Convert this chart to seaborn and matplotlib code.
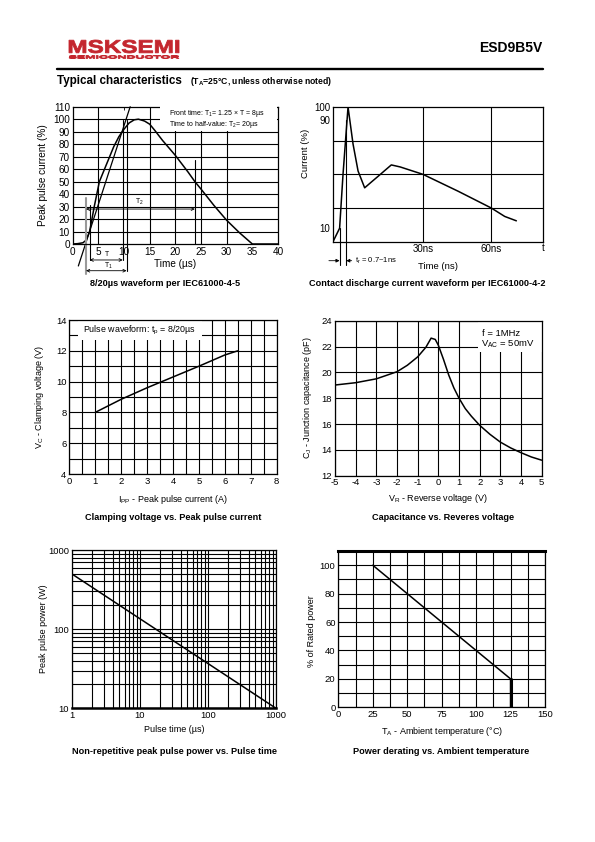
import matplotlib
matplotlib.use("Agg")
import matplotlib.pyplot as plt
import seaborn as sns
from matplotlib.patches import Rectangle, PathPatch
from matplotlib.textpath import TextPath
from matplotlib.font_manager import FontProperties
from matplotlib.transforms import Affine2D
from matplotlib.ticker import LogLocator, NullFormatter, MultipleLocator

# 8/20us surge waveform, % of peak vs time (us)
surge_t = [0, 1, 2, 2.6, 3.3, 4.2, 5.2, 6, 7, 8, 9, 10, 11, 12, 12.8, 14, 15, 16,
           17.5, 20, 22.5, 23.8, 25, 27.5, 30, 32.5, 35, 40]
surge_i = [0, 0.3, 1, 3, 10, 30, 50, 58, 68, 78, 86, 92, 97, 99.5, 100, 98.5, 96, 91,
           83, 71, 57.5, 50, 44, 31, 19, 9, 0, 0]
front_t = [1.1, 11.2]
front_i = [-17.6, 110]

# ESD contact discharge waveform, % vs time (ns)
esd_t = [-9.5, -6.6, -5.1, -2.9, -0.7, 1.5, 4.4, 7, 10.2, 13, 16.1, 20, 30, 45.4, 60, 65.9, 71]
esd_i = [0, 10, 50, 100, 72.5, 52.5, 40, 43.8, 48.4, 52.5, 57, 55.5, 50, 37.5, 25, 18.75, 15.5]

# clamping voltage vs peak pulse current
clamp_i = [1, 2, 3, 4, 5, 6, 6.5]
clamp_v = [8, 8.85, 9.6, 10.3, 11.0, 11.73, 12.0]

# junction capacitance vs reverse voltage
cap_v = [-5, -4, -3, -2, -1.5, -1, -0.6, -0.35, -0.15, 0, 0.25, 0.5, 0.75, 1, 1.3, 1.6,
         2, 2.5, 3, 3.5, 4, 4.5, 5]
cap_c = [19.02, 19.2, 19.5, 20.05, 20.55, 21.2, 21.95, 22.65, 22.55, 22.1, 21.0, 19.8,
         18.8, 18.0, 17.2, 16.6, 15.9, 15.2, 14.6, 14.15, 13.78, 13.45, 13.2]

# peak pulse power vs pulse time
pulse_t = [1, 1000]
pulse_p = [500, 10]

# power derating
derate_t = [25, 125, 125]
derate_p = [100, 20, 0]

sns.set_theme(style="white")
plt.rcParams["font.family"] = ["Liberation Sans", "DejaVu Sans"]
plt.rcParams["mathtext.fontset"] = "custom"
plt.rcParams["mathtext.rm"] = "Liberation Sans"
plt.rcParams["mathtext.it"] = "Liberation Sans:italic"
plt.rcParams["mathtext.bf"] = "Liberation Sans:bold"
plt.rcParams["axes.unicode_minus"] = False
for k in ["text.color", "axes.labelcolor", "xtick.color", "ytick.color"]:
    plt.rcParams[k] = "black"

W, H = 595, 842
fig = plt.figure(figsize=(W / 100, H / 100), dpi=100)
page = fig.add_axes([0, 0, 1, 1])
page.set_xlim(0, W)
page.set_ylim(H, 0)
page.axis("off")


def box(l, t, r, b):
    return [l / W, 1 - b / H, (r - l) / W, (b - t) / H]


def frame(ax, fs, top=True):
    ax.set_axisbelow(True)
    ax.set_facecolor("white")
    for s in ax.spines.values():
        s.set_visible(True)
        s.set_color("black")
        s.set_linewidth(0.9)
    ax.tick_params(which="both", direction="in", top=top, right=top, length=2.5,
                   width=0.6, colors="black", labelsize=fs, pad=2)
    ax.tick_params(which="minor", length=1.5)


def labels(ax, xl, yl, rect, xcy, ycx, fs, ycy=None):
    l, t, r, b = rect
    ax.set_xlabel(xl, fontsize=fs, color="black", va="center")
    ax.xaxis.set_label_coords(0.5, -(xcy - b) / (b - t))
    ax.set_ylabel(yl, fontsize=fs, color="black", va="center")
    ax.yaxis.set_label_coords((ycx - l) / (r - l), 0.5 if ycy is None else (b - ycy) / (b - t))


def logo_text(s, x0, x1, ytop, ybot, color):
    tp = TextPath((0, 0), s, size=1, prop=FontProperties(family="Liberation Sans", weight="bold"))
    bb = tp.get_extents()
    tr = (Affine2D().translate(-bb.x0, -bb.y0)
          .scale((x1 - x0) / bb.width, -(ybot - ytop) / bb.height).translate(x0, ybot))
    page.add_patch(PathPatch(tr.transform_path(tp), facecolor=color, edgecolor=color, lw=0.6))


line_kw = dict(color="black", lw=0.8)
arrow_kw = dict(arrowstyle="<->", color="black", lw=0.6, mutation_scale=5, shrinkA=0, shrinkB=0)
tick_fs = 6.8
lab_fs = 6.5

# header
logo_text("MSKSEMI", 69, 179, 40, 53, "#c4262e")
logo_text("SEMICONDUCTOR", 69, 179, 55.5, 58.5, "#c4262e")
page.text(542, 48, "ESD9B5V", ha="right", va="center", fontsize=10, fontweight="bold")
page.plot([57, 543], [69, 69], color="black", lw=1.7)
page.text(57, 81, "Typical characteristics", ha="left", va="center", fontsize=8.4, fontweight="bold")
page.text(190, 81.5, "($\\mathbf{T_A}$=25°C, unless otherwise noted)", ha="left", va="center",
          fontsize=6.2, fontweight="bold")

# panel 1: 8/20us waveform
r1 = (72.7, 106.7, 278, 244)
ax1 = fig.add_axes(box(*r1))
sns.lineplot(x=surge_t, y=surge_i, ax=ax1, color="black", linewidth=1.1, sort=False, estimator=None)
sns.lineplot(x=front_t, y=front_i, ax=ax1, color="black", linewidth=0.9, sort=False,
             estimator=None, clip_on=False)
ax1.set_xlim(0, 40)
ax1.set_ylim(0, 110)
ax1.set_xticks(range(0, 41, 5))
ax1.set_yticks(range(0, 111, 10))
frame(ax1, 7.2)
for v in [5, 15, 20, 25, 30]:
    ax1.axvline(v, zorder=0.8, **line_kw)
for v in range(10, 101, 10):
    ax1.axhline(v, zorder=0.8, **line_kw)
ax1.add_patch(Rectangle((17, 90.6), 22.85, 20.5, facecolor="white", edgecolor="none",
                        zorder=3, clip_on=False))
ax1.text(18.8, 104.5, "Front time: $\\mathregular{T_1}$= 1.25 × T = 8µs", fontsize=5, va="center", zorder=4)
ax1.text(18.8, 95.8, "Time to half-value: $\\mathregular{T_2}$= 20µs", fontsize=5, va="center", zorder=4)
ax1.plot([2.6, 2.6], [-24, 37], color="0.6", lw=1.5, clip_on=False)
ax1.plot([3.3, 3.3], [-12.8, 31], clip_on=False, **line_kw)
ax1.plot([9.75, 9.75], [-12.8, 99], clip_on=False, **line_kw)
ax1.plot([10.5, 10.5], [-21.4, 99], clip_on=False, **line_kw)
ax1.plot([23.8, 23.8], [0, 67], **line_kw)
ax1.annotate("", xy=(9.75, -12.8), xytext=(3.3, -12.8), arrowprops=arrow_kw, annotation_clip=False)
ax1.annotate("", xy=(10.5, -21.4), xytext=(2.6, -21.4), arrowprops=arrow_kw, annotation_clip=False)
ax1.annotate("", xy=(23.8, 28), xytext=(2.6, 28), arrowprops=arrow_kw, annotation_clip=False)
ax1.text(6.6, -8.5, "T", fontsize=5, ha="center", va="center")
ax1.text(6.9, -17.3, "$\\mathregular{T_1}$", fontsize=5, ha="center", va="center")
ax1.text(13, 34, "$\\mathregular{T_2}$", fontsize=5, ha="center", va="center")
labels(ax1, "Time (µs)", "Peak pulse current (%)", r1, 264, 43, 7.2)

# panel 2: ESD contact discharge waveform
r2 = (333, 107, 543, 241.7)
ax2 = fig.add_axes(box(*r2))
sns.lineplot(x=esd_t, y=esd_i, ax=ax2, color="black", linewidth=1.1, sort=False, estimator=None)
ax2.set_xlim(-9.5, 82.7)
ax2.set_ylim(0, 100)
ax2.set_xticks([30, 60], labels=["30ns", "60ns"])
ax2.set_yticks([10, 90, 100])
frame(ax2, 7, top=False)
for v in [30, 60]:
    ax2.axvline(v, zorder=0.8, **line_kw)
for v in [25, 50, 75]:
    ax2.axhline(v, zorder=0.8, **line_kw)
ax2.text(82.7, -4.7, "t", fontsize=7, ha="center", va="center")
ax2.plot([-6.6, -6.6], [-17.5, 10], clip_on=False, **line_kw)
ax2.plot([-3.7, -3.7], [-17.5, 90], clip_on=False, **line_kw)
head_kw = dict(arrow_kw, arrowstyle="-|>")
ax2.annotate("", xy=(-6.6, -14.1), xytext=(-11.3, -14.1), arrowprops=head_kw, annotation_clip=False)
ax2.annotate("", xy=(-3.7, -14.1), xytext=(-1.3, -14.1), arrowprops=head_kw, annotation_clip=False)
ax2.text(0, -14.1, "$\\mathregular{t_r}$ = 0.7~1ns", fontsize=5.5, ha="left", va="center")
labels(ax2, "Time (ns)", "Current (%)", r2, 266, 306, 6.8, ycy=153)

# panel 3: clamping voltage
r3 = (69.3, 320, 276.7, 474)
ax3 = fig.add_axes(box(*r3))
sns.lineplot(x=clamp_i, y=clamp_v, ax=ax3, color="black", linewidth=1.1, sort=False, estimator=None)
ax3.set_xlim(0, 8)
ax3.set_ylim(4, 14)
ax3.set_xticks(range(0, 9))
ax3.set_yticks(range(4, 15, 2))
ax3.xaxis.set_minor_locator(MultipleLocator(0.5))
ax3.yaxis.set_minor_locator(MultipleLocator(1))
frame(ax3, tick_fs)
ax3.grid(which="both", color="black", lw=0.8)
ax3.add_patch(Rectangle((0.35, 12.7), 4.75, 1.3, facecolor="white", edgecolor="none", zorder=1))
ax3.text(0.54, 13.35, "Pulse waveform: $\\mathregular{t_p}$ = 8/20µs", fontsize=6.4, va="center", zorder=2)
labels(ax3, "$\\mathregular{I_{PP}}$ - Peak pulse current (A)", "$\\mathregular{V_C}$ - Clamping voltage (V)",
       r3, 499, 40, lab_fs)

# panel 4: capacitance
r4 = (335, 320.7, 541.7, 475.7)
ax4 = fig.add_axes(box(*r4))
sns.lineplot(x=cap_v, y=cap_c, ax=ax4, color="black", linewidth=1.1, sort=False, estimator=None)
ax4.set_xlim(-5, 5)
ax4.set_ylim(12, 24)
ax4.set_xticks(range(-5, 6))
ax4.set_yticks(range(12, 25, 2))
frame(ax4, tick_fs)
ax4.grid(which="major", color="black", lw=0.8)
ax4.add_patch(Rectangle((1.9, 21.6), 3.1, 2.4, facecolor="white", edgecolor="none", zorder=1))
ax4.text(2.1, 23.0, "f = 1MHz", fontsize=6.8, va="center", zorder=2)
ax4.text(2.05, 22.2, "$\\mathregular{V_{AC}}$ = 50mV", fontsize=6.8, va="center", zorder=2)
labels(ax4, "$\\mathregular{V_R}$ - Reverse voltage (V)", "$\\mathregular{C_J}$ - Junction capacitance (pF)",
       r4, 498, 307, lab_fs)

# panel 5: peak pulse power
r5 = (71.7, 550, 276, 708.3)
ax5 = fig.add_axes(box(*r5))
sns.lineplot(x=pulse_t, y=pulse_p, ax=ax5, color="black", linewidth=1.1, sort=False, estimator=None)
ax5.set_xscale("log")
ax5.set_yscale("log")
ax5.set_xlim(1, 1000)
ax5.set_ylim(10, 1000)
ax5.set_xticks([1, 10, 100, 1000], labels=["1", "10", "100", "1000"])
ax5.set_yticks([10, 100, 1000], labels=["10", "100", "1000"])
for a in (ax5.xaxis, ax5.yaxis):
    a.set_minor_locator(LogLocator(base=10, subs=range(2, 10)))
    a.set_minor_formatter(NullFormatter())
frame(ax5, tick_fs)
ax5.spines["bottom"].set_linewidth(1.8)
ax5.grid(which="both", color="black", lw=0.8)
labels(ax5, "Pulse time (µs)", "Peak pulse power (W)", r5, 730, 43, lab_fs)

# panel 6: power derating
r6 = (338.3, 551, 545, 707.3)
ax6 = fig.add_axes(box(*r6))
sns.lineplot(x=derate_t, y=derate_p, ax=ax6, color="black", linewidth=1.1, sort=False, estimator=None)
sns.lineplot(x=derate_t[1:], y=derate_p[1:], ax=ax6, color="black", linewidth=2.2, sort=False, estimator=None)
ax6.set_xlim(0, 150)
ax6.set_ylim(0, 110)
ax6.set_xticks(range(0, 151, 25))
ax6.set_yticks(range(0, 101, 20))
ax6.xaxis.set_minor_locator(MultipleLocator(12.5))
ax6.yaxis.set_minor_locator(MultipleLocator(10))
frame(ax6, tick_fs)
ax6.spines["top"].set_linewidth(2.2)
ax6.grid(which="both", color="black", lw=0.8)
labels(ax6, "$\\mathregular{T_A}$ - Ambient temperature (°C)", "% of Rated power", r6, 731, 312, lab_fs, ycy=631)

# captions
captions = [
    (165, 283, "8/20µs waveform per IEC61000-4-5"),
    (427, 283, "Contact discharge current waveform per IEC61000-4-2"),
    (173, 518, "Clamping voltage vs. Peak pulse current"),
    (443, 518, "Capacitance vs. Reveres voltage"),
    (175, 751, "Non-repetitive peak pulse power vs. Pulse time"),
    (441, 751, "Power derating vs. Ambient temperature"),
]
for cx, cy, s in captions:
    page.text(cx, cy, s, ha="center", va="center", fontsize=6.6, fontweight="bold")

fig.savefig("out.png", dpi=100)
